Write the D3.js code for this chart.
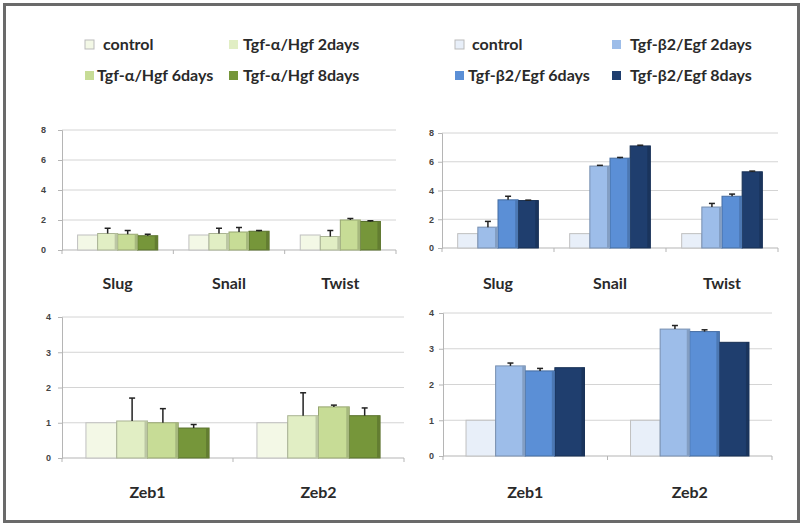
<!DOCTYPE html>
<html>
<head>
<meta charset="utf-8">
<script src="https://cdn.jsdelivr.net/npm/d3@7"></script>
<style>
  body { margin: 0; background: #fff; }
  svg { display: block; font-family: Lato, "Open Sans", sans-serif; }
</style>
</head>
<body>
<svg id="chart" width="803" height="525"></svg>
<script>
// series names
var greenSeries = ["control", "Tgf-α/Hgf 2days", "Tgf-α/Hgf 6days", "Tgf-α/Hgf 8days"];
var blueSeries = ["control", "Tgf-β2/Egf 2days", "Tgf-β2/Egf 6days", "Tgf-β2/Egf 8days"];
var greenColors = ["#f3f8e6", "#e1eec4", "#c7dc96", "#76963a"];
var blueColors = ["#e8eff9", "#9dbde9", "#5b8fd6", "#1f3e6e"];

var genesTop = ["Slug", "Snail", "Twist"];
var genesBottom = ["Zeb1", "Zeb2"];

var ticksTop = [0, 2, 4, 6, 8];
var ticksBottom = [0, 1, 2, 3, 4];

// values per gene, one entry per series
var greenTopValues = [[1.0, 1.1, 1.05, 0.95], [1.0, 1.1, 1.2, 1.25], [1.0, 0.9, 2.0, 1.9]];
var greenTopErrors = [[0, 0.35, 0.25, 0.1], [0, 0.35, 0.3, 0.05], [0, 0.4, 0.1, 0.05]];
var blueTopValues = [[1.0, 1.45, 3.35, 3.3], [1.0, 5.7, 6.25, 7.1], [1.0, 2.85, 3.6, 5.3]];
var blueTopErrors = [[0, 0.4, 0.25, 0.03], [0, 0.05, 0.05, 0.05], [0, 0.25, 0.15, 0.05]];
var greenBottomValues = [[1.0, 1.05, 1.0, 0.85], [1.0, 1.2, 1.45, 1.2]];
var greenBottomErrors = [[0, 0.65, 0.4, 0.1], [0, 0.65, 0.05, 0.22]];
var blueBottomValues = [[1.0, 2.52, 2.38, 2.47], [1.0, 3.55, 3.48, 3.18]];
var blueBottomErrors = [[0, 0.08, 0.07, 0], [0, 0.1, 0.05, 0]];

var svg = d3.select("#chart");

// outer frame
svg.append("rect")
  .attr("x", 4.5).attr("y", 4.5)
  .attr("width", 794).attr("height", 517)
  .attr("fill", "#fff")
  .attr("stroke", "#6a6a6a")
  .attr("stroke-width", 3);

var panels = [
  {genes: genesTop, values: greenTopValues, errors: greenTopErrors, colors: greenColors,
   ticks: ticksTop, left: 62, right: 396, top: 130, bottom: 250, labelGap: 16, geneY: 289},
  {genes: genesTop, values: blueTopValues, errors: blueTopErrors, colors: blueColors,
   ticks: ticksTop, left: 442, right: 778, top: 133, bottom: 248, labelGap: 8, geneY: 289},
  {genes: genesBottom, values: greenBottomValues, errors: greenBottomErrors, colors: greenColors,
   ticks: ticksBottom, left: 62, right: 404, top: 317, bottom: 458, labelGap: 11, geneY: 498},
  {genes: genesBottom, values: blueBottomValues, errors: blueBottomErrors, colors: blueColors,
   ticks: ticksBottom, left: 443, right: 772, top: 313, bottom: 456, labelGap: 9, geneY: 498}
];

panels.forEach(drawPanel);

function drawPanel(p) {
  var g = svg.append("g");

  var y = d3.scaleLinear()
    .domain([0, d3.max(p.ticks)])
    .range([p.bottom, p.top]);

  var x0 = d3.scaleBand()
    .domain(p.genes)
    .range([p.left, p.right])
    .paddingInner(0.28)
    .paddingOuter(0.14);

  var x1 = d3.scaleBand()
    .domain(d3.range(4))
    .range([0, x0.bandwidth()]);

  // gridlines
  g.selectAll(".grid")
    .data(p.ticks.filter(function(t){ return t > 0; }))
    .enter().append("line")
    .attr("x1", p.left).attr("x2", p.right)
    .attr("y1", function(d){ return y(d); })
    .attr("y2", function(d){ return y(d); })
    .attr("stroke", "#d4d4d4");

  // y axis
  var yAxis = d3.axisLeft(y)
    .tickValues(p.ticks)
    .tickFormat(d3.format("d"))
    .tickSize(4)
    .tickPadding(p.labelGap - 4);
  var ya = g.append("g")
    .attr("transform", "translate(" + p.left + ",0)")
    .call(yAxis);
  ya.select(".domain").attr("stroke", "#b5b5b5");
  ya.selectAll(".tick line").attr("stroke", "#b5b5b5");
  ya.selectAll("text")
    .attr("fill", "#444")
    .style("font-size", "9px")
    .style("font-weight", "bold")
    .style("font-family", "Arial, 'Liberation Sans', sans-serif");

  // baseline and category separators
  g.append("line")
    .attr("x1", p.left).attr("x2", p.right)
    .attr("y1", p.bottom).attr("y2", p.bottom)
    .attr("stroke", "#b5b5b5");

  g.selectAll(".sep")
    .data(d3.range(p.genes.length + 1))
    .enter().append("line")
    .attr("x1", function(i){ return p.left + i * (p.right - p.left) / p.genes.length; })
    .attr("x2", function(i){ return p.left + i * (p.right - p.left) / p.genes.length; })
    .attr("y1", p.bottom).attr("y2", p.bottom + 4)
    .attr("stroke", "#b5b5b5");

  // bars
  p.genes.forEach(function(gene, gi) {
    var grp = g.append("g")
      .attr("transform", "translate(" + x0(gene) + ",0)");

    var items = p.values[gi].map(function(v, si) {
      return {s: si, value: v, err: p.errors[gi][si]};
    });

    grp.selectAll("rect.bar")
      .data(items)
      .enter().append("rect")
      .attr("class", "bar")
      .attr("x", function(d){ return x1(d.s); })
      .attr("y", function(d){ return y(d.value); })
      .attr("width", x1.bandwidth())
      .attr("height", function(d){ return y(0) - y(d.value); })
      .attr("fill", function(d){ return p.colors[d.s]; })
      .attr("stroke", function(d){ return d.s === 0 ? "#c0c0c0" : d3.color(p.colors[d.s]).darker(0.8); })
      .attr("stroke-width", 1);

    // darker right edge for a little depth
    grp.selectAll("rect.side")
      .data(items.filter(function(d){ return d.s > 0; }))
      .enter().append("rect")
      .attr("class", "side")
      .attr("x", function(d){ return x1(d.s) + x1.bandwidth() - 3; })
      .attr("y", function(d){ return y(d.value); })
      .attr("width", 3)
      .attr("height", function(d){ return y(0) - y(d.value); })
      .attr("fill", function(d){ return d3.color(p.colors[d.s]).darker(0.5); });

    // error bars
    var errs = items.filter(function(d){ return d.err > 0; });
    grp.selectAll("line.err")
      .data(errs)
      .enter().append("line")
      .attr("x1", function(d){ return x1(d.s) + x1.bandwidth() / 2; })
      .attr("x2", function(d){ return x1(d.s) + x1.bandwidth() / 2; })
      .attr("y1", function(d){ return y(d.value); })
      .attr("y2", function(d){ return y(d.value + d.err); })
      .attr("stroke", "#222")
      .attr("stroke-width", 1.5);
    grp.selectAll("line.cap")
      .data(errs)
      .enter().append("line")
      .attr("x1", function(d){ return x1(d.s) + x1.bandwidth() / 2 - 3; })
      .attr("x2", function(d){ return x1(d.s) + x1.bandwidth() / 2 + 3; })
      .attr("y1", function(d){ return y(d.value + d.err); })
      .attr("y2", function(d){ return y(d.value + d.err); })
      .attr("stroke", "#222")
      .attr("stroke-width", 1.5);
  });

  // gene labels
  g.selectAll(".gene")
    .data(p.genes)
    .enter().append("text")
    .attr("x", function(d){ return x0(d) + x0.bandwidth() / 2; })
    .attr("y", p.geneY)
    .attr("text-anchor", "middle")
    .attr("fill", "#2a2a2a")
    .style("font-size", "16px")
    .style("font-weight", "bold")
    .text(function(d){ return d; });
}

// legends
function legend(names, colors, cols, rowY) {
  var items = names.map(function(n, i){ return {name: n, color: colors[i], i: i}; });
  var lg = svg.append("g").selectAll("g")
    .data(items)
    .enter().append("g")
    .attr("transform", function(d){
      return "translate(" + cols[d.i].sx + "," + rowY[Math.floor(d.i / 2)] + ")";
    });
  lg.append("rect")
    .attr("x", 0).attr("y", -5)
    .attr("width", 9).attr("height", 9)
    .attr("fill", function(d){ return d.color; })
    .attr("stroke", function(d){ return d.i === 0 ? "#bbb" : "none"; });
  lg.append("text")
    .attr("x", function(d){ return cols[d.i].tx; })
    .attr("y", 5)
    .attr("fill", "#2a2a2a")
    .style("font-size", "16px")
    .style("font-weight", "bold")
    .text(function(d){ return d.name; });
}

legend(greenSeries, greenColors,
  [{sx: 85, tx: 18}, {sx: 229, tx: 14}, {sx: 85, tx: 12}, {sx: 229, tx: 14}], [45, 76]);
legend(blueSeries, blueColors,
  [{sx: 455, tx: 17}, {sx: 612, tx: 18}, {sx: 455, tx: 13}, {sx: 612, tx: 18}], [45, 76]);
</script>
</body>
</html>
